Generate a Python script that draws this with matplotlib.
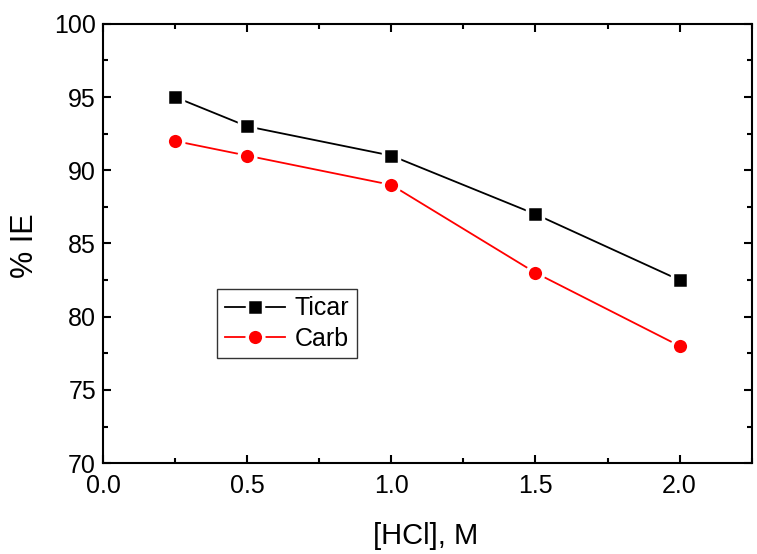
import numpy as np
import matplotlib.pyplot as plt
from matplotlib.ticker import MultipleLocator

plt.rcParams['font.family'] = ['Liberation Sans', 'DejaVu Sans']

# HCl concentration (M) and inhibition efficiency (%)
conc = [0.25, 0.5, 1.0, 1.5, 2.0]
ie_ticar = [95, 93, 91, 87, 82.5]
ie_carb = [92, 91, 89, 83, 78]

fig = plt.figure(figsize=(7.57, 5.54), dpi=100)
ax = fig.add_axes([0.136, 0.164, 0.857, 0.793])

ax.plot(conc, ie_ticar, color='black', lw=1.3, marker='s', ms=11,
        mfc='black', mec='white', mew=2.5, label='Ticar')
ax.plot(conc, ie_carb, color='red', lw=1.3, marker='o', ms=12,
        mfc='red', mec='white', mew=2.5, label='Carb')

ax.set_xlim(0, 2.25)
ax.set_ylim(70, 100)
ax.xaxis.set_minor_locator(MultipleLocator(0.25))
ax.yaxis.set_major_locator(MultipleLocator(5))
ax.yaxis.set_minor_locator(MultipleLocator(2.5))
ax.set_xticks(np.arange(0, 2.01, 0.5))
ax.set_xticklabels(['0.0', '0.5', '1.0', '1.5', '2.0'])

ax.tick_params(which='both', direction='in', top=True, right=True, width=1.5)
ax.tick_params(which='major', length=6, labelsize=18)
ax.tick_params(axis='x', which='major', pad=8)
ax.tick_params(axis='y', which='major', pad=5)
ax.tick_params(which='minor', length=3.5)
for s in ax.spines.values():
    s.set_linewidth(1.5)

ax.set_xlabel('[HCl], M', fontsize=21, va='center')
ax.xaxis.set_label_coords(0.497, -0.166)
ax.set_ylabel('% IE', fontsize=22, va='center')
ax.yaxis.set_label_coords(-0.120, 0.495)

leg = ax.legend(loc='lower left', bbox_to_anchor=(0.176, 0.239), fontsize=18,
                frameon=True, fancybox=False, edgecolor='black',
                handlelength=2.4, borderpad=0.3, labelspacing=0.25,
                handletextpad=0.4, borderaxespad=0)
leg.get_frame().set_linewidth(1.0)

fig.savefig('out.png', dpi=100)
